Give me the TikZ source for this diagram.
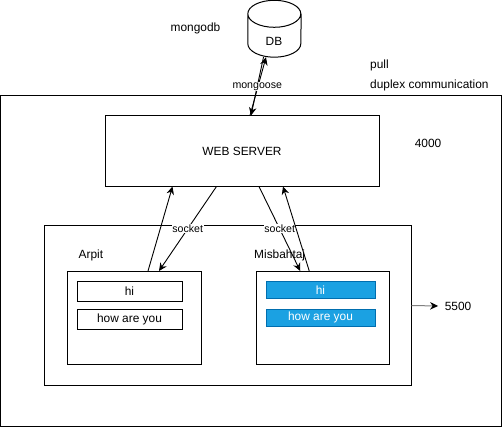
\documentclass[tikz,border=0pt]{standalone}
\usepackage{fontspec}
\setmainfont{Liberation Sans}
\usetikzlibrary{arrows.meta}

\definecolor{bluefill}{HTML}{1BA1E2}
\definecolor{blueline}{HTML}{006EAF}

\tikzset{
	box/.style={rectangle, draw=black, line width=1pt, inner sep=0pt, outer sep=0pt},
	msg/.style={box, minimum width=105pt, minimum height=20pt},
	bluemsg/.style={rectangle, fill=bluefill, draw=blueline, line width=1pt, inner sep=0pt, outer sep=0pt, minimum width=109pt, minimum height=17.5pt, text=white},
	label/.style={rectangle, draw=none, inner sep=0pt},
	tag/.style={rectangle, draw=none, fill=white, inner sep=0.5pt, font=\fontsize{10.6}{12}\selectfont},
	link/.style={draw=black, line width=0.9pt, -{Stealth[length=8pt, width=7.5pt]}}
}

\begin{document}
\begin{tikzpicture}[x=1pt, y=-1pt, every node/.append style={font=\fontsize{11.9}{14}\selectfont}]
	\useasboundingbox (0,0) rectangle (502,427);

	\node[box, minimum width=501pt, minimum height=330pt] (outer) at (250.5,261){};
	\node[box, minimum width=274pt, minimum height=71pt] (web) at (242,151){WEB SERVER};
	\node[box, minimum width=367.5pt, minimum height=159pt] (inner) at (227.75,305.5){};

	\node[box, minimum width=134pt, minimum height=93pt] (arpit) at (134,317.5){};
	\node[box, minimum width=132.5pt, minimum height=93pt] (misbah) at (322.75,317.5){};

	\node[msg] (hi1) at (129.5,291){hi};
	\node[msg] (how1) at (129.5,319){how are you};
	\node[bluemsg] (hi2) at (320.5,289.75){hi};
	\node[bluemsg] (how2) at (320.5,317.75){how are you};

	% cylinder
	\node[label, minimum width=53pt, minimum height=56.5pt] (db) at (274.5,28.75){};
	\draw[line width=1pt] ([yshift=-13.5pt]db.north west) arc[start angle=180, end angle=-180, x radius=26.5pt, y radius=13.5pt]
		-- ([yshift=13.5pt]db.south west) arc[start angle=180, end angle=360, x radius=26.5pt, y radius=13.5pt]
		-- ([yshift=-13.5pt]db.north east);
	\node[label] (dbtext) at (274,41){DB};

	\node[label] (mongodb) at (195.5,28){mongodb};
	\node[label, anchor=west] (pull) at (370,65){pull};
	\node[label, anchor=west] (duplex) at (370,85){duplex communication};
	\node[label] (port1) at (428,143){4000};
	\node[label, anchor=west] (arpittext) at (78.5,255){Arpit};
	\node[label, anchor=west] (misbahtext) at (254,255){Misbahtaj};
	\node[label] (port2) at (458,306){5500};

	\draw[link] ([xshift=8pt]web.north) -- ([xshift=-8.5pt]db.south);
	\draw[link] ([xshift=-11pt]db.south) -- node[tag]{mongoose} ([xshift=9pt]web.north);

	\draw[link] ([xshift=14pt]arpit.north) -- ([xshift=-69.5pt]web.south);
	\draw[link] ([xshift=-25.5pt]web.south) -- node[tag]{socket} ([xshift=25pt]arpit.north);
	\draw[link] ([xshift=17pt]web.south) -- node[tag]{socket} ([xshift=-22.5pt]misbah.north);
	\draw[link] ([xshift=-13.5pt]misbah.north) -- ([xshift=41pt]web.south);

	\draw[draw=gray, line width=1pt, -{Stealth[length=8pt, width=7.5pt, color=black]}] (inner.east) -- ([xshift=-6.5pt]port2.west);
\end{tikzpicture}
\end{document}
